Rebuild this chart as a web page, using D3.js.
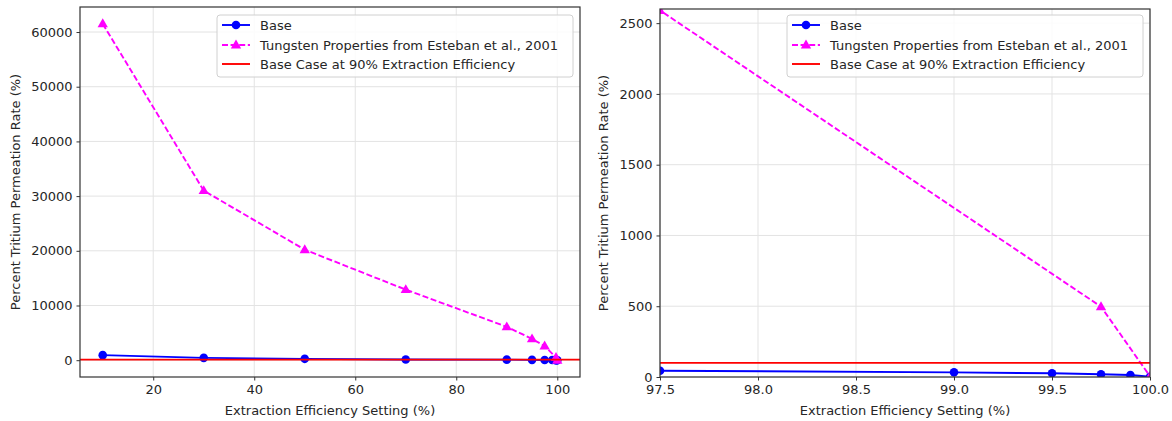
<!DOCTYPE html>
<meta charset="utf-8">
<style>
body { margin: 0; background: #fff; font-family: "DejaVu Sans"; }
text { fill: #262626; }
.axis path.domain { display: none; }
.tick line { stroke: #333; }
</style>
<body>
<svg width="1172" height="421"></svg>
<script src="https://d3js.org/d3.v7.min.js"></script>
<script>

// values
var baseX = [10, 30, 50, 70, 90, 95, 97.5, 99, 99.5, 99.75, 99.9, 100];
var baseY = [920, 430, 250, 140, 100, 60, 44, 33, 26, 19, 14, 2];
var tungX = [10, 30, 50, 70, 90, 95, 97.5, 99.75, 100];
var tungY = [61500, 31000, 20200, 12900, 6100, 3900, 2590, 497, 5];
var refLevel = 100;

var leftXTicks = [20, 40, 60, 80, 100];
var leftYTicks = [0, 10000, 20000, 30000, 40000, 50000, 60000];
var rightXTicks = [97.5, 98.0, 98.5, 99.0, 99.5, 100.0];
var rightYTicks = [0, 500, 1000, 1500, 2000, 2500];

var legendLabels = ["Base", "Tungsten Properties from Esteban et al., 2001", "Base Case at 90% Extraction Efficiency"];

var svg = d3.select("svg");

function pad(e) {
    var m = (e[1] - e[0]) * 0.05;
    return [e[0] - m, e[1] + m];
}

var allY = baseY.concat(tungY, [refLevel]);

drawPanel({
    id: "L", left: 80, right: 580, top: 7, bottom: 377,
    xdom: pad(d3.extent(baseX.concat(tungX))),
    ydom: pad(d3.extent(allY)),
    xticks: leftXTicks, yticks: leftYTicks, xfmt: d3.format("d"),
    ylabelX: 20, legendX: 217
});
drawPanel({
    id: "R", left: 660, right: 1150, top: 9, bottom: 377,
    xdom: [97.5, 100], ydom: [0, 2600],
    xticks: rightXTicks, yticks: rightYTicks, xfmt: d3.format(".1f"),
    ylabelX: 608, legendX: 787
});

function drawPanel(o) {
    var w = o.right - o.left, h = o.bottom - o.top;
    var x = d3.scaleLinear().domain(o.xdom).range([0, w]);
    var y = d3.scaleLinear().domain(o.ydom).range([h, 0]);

    var g = svg.append("g").attr("transform", "translate(" + o.left + "," + o.top + ")");

    g.append("clipPath").attr("id", "clip" + o.id)
        .append("rect").attr("width", w).attr("height", h);

    // grid
    g.append("g").selectAll("line").data(o.xticks).enter().append("line")
        .attr("x1", function (d) { return x(d); }).attr("x2", function (d) { return x(d); })
        .attr("y1", 0).attr("y2", h)
        .attr("stroke", "#e3e3e3").attr("stroke-width", 1);
    g.append("g").selectAll("line").data(o.yticks).enter().append("line")
        .attr("y1", function (d) { return y(d); }).attr("y2", function (d) { return y(d); })
        .attr("x1", 0).attr("x2", w)
        .attr("stroke", "#e3e3e3").attr("stroke-width", 1);

    var plot = g.append("g").attr("clip-path", "url(#clip" + o.id + ")");

    var line = d3.line().x(function (d) { return x(d[0]); }).y(function (d) { return y(d[1]); });

    var base = d3.zip(baseX, baseY);
    plot.append("path").datum(base).attr("d", line)
        .attr("fill", "none").attr("stroke", "#0000ff").attr("stroke-width", 1.9);
    plot.selectAll("circle.b").data(base).enter().append("circle")
        .attr("class", "b")
        .attr("cx", function (d) { return x(d[0]); })
        .attr("cy", function (d) { return y(d[1]); })
        .attr("r", 4.3).attr("fill", "#0000ff");

    var tung = d3.zip(tungX, tungY);
    plot.append("path").datum(tung).attr("d", line)
        .attr("fill", "none").attr("stroke", "#ff00ff").attr("stroke-width", 1.9)
        .attr("stroke-dasharray", "6,2.6");
    var tri = d3.symbol().type(d3.symbolTriangle).size(46);
    plot.selectAll("path.t").data(tung).enter().append("path")
        .attr("class", "t")
        .attr("transform", function (d) { return "translate(" + x(d[0]) + "," + (y(d[1]) + 0.5) + ")"; })
        .attr("d", tri).attr("fill", "#ff00ff");

    plot.append("line")
        .attr("x1", 0).attr("x2", w)
        .attr("y1", y(refLevel)).attr("y2", y(refLevel))
        .attr("stroke", "#ff0000").attr("stroke-width", 1.9);

    // axes
    g.append("g").attr("class", "axis")
        .attr("transform", "translate(0," + h + ")")
        .call(d3.axisBottom(x).tickValues(o.xticks).tickFormat(o.xfmt).tickSize(3.5).tickPadding(4))
        .call(function (s) { s.selectAll("text").attr("font-family", "DejaVu Sans").attr("font-size", 13).attr("fill", "#262626"); });
    g.append("g").attr("class", "axis")
        .call(d3.axisLeft(y).tickValues(o.yticks).tickFormat(d3.format("d")).tickSize(3.5).tickPadding(4))
        .call(function (s) { s.selectAll("text").attr("font-family", "DejaVu Sans").attr("font-size", 13).attr("fill", "#262626"); });

    g.append("rect").attr("width", w).attr("height", h)
        .attr("fill", "none").attr("stroke", "#333").attr("stroke-width", 1.2);

    // labels
    svg.append("text")
        .attr("x", o.left + w / 2).attr("y", 415)
        .attr("text-anchor", "middle").attr("font-size", 13)
        .text("Extraction Efficiency Setting (%)");
    svg.append("text")
        .attr("transform", "translate(" + o.ylabelX + "," + (o.top + h / 2) + ") rotate(-90)")
        .attr("text-anchor", "middle").attr("font-size", 13)
        .text("Percent Tritium Permeation Rate (%)");

    // legend
    var lg = svg.append("g").attr("transform", "translate(" + o.legendX + ",15)");
    lg.append("rect").attr("width", 356).attr("height", 62).attr("rx", 3)
        .attr("fill", "#fff").attr("fill-opacity", 0.85)
        .attr("stroke", "#d0d0d0").attr("stroke-width", 1);
    var rows = [10, 30, 49];
    legendLabels.forEach(function (lab, i) {
        var ry = rows[i];
        var ln = lg.append("line").attr("x1", 5).attr("x2", 33).attr("y1", ry).attr("y2", ry)
            .attr("stroke-width", 1.9);
        if (i === 0) {
            ln.attr("stroke", "#0000ff");
            lg.append("circle").attr("cx", 19).attr("cy", ry).attr("r", 4.3).attr("fill", "#0000ff");
        } else if (i === 1) {
            ln.attr("stroke", "#ff00ff").attr("stroke-dasharray", "6,2.6");
            lg.append("path").attr("transform", "translate(19," + (ry + 0.5) + ")").attr("d", tri).attr("fill", "#ff00ff");
        } else {
            ln.attr("stroke", "#ff0000");
        }
        lg.append("text").attr("x", 43).attr("y", ry + 4.5).attr("font-size", 13).text(lab);
    });
}
</script>
</body>
